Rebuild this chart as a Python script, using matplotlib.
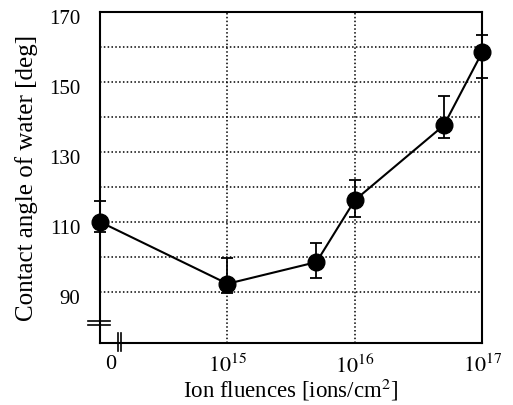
import numpy as np
import matplotlib.pyplot as plt
import matplotlib.transforms as mtransforms

plt.rcParams['font.family'] = ['Liberation Serif', 'DejaVu Serif']
plt.rcParams['mathtext.fontset'] = 'stix'

# data
fluence = np.array([0, 1e15, 5e15, 1e16, 5e16, 1e17])
angle = np.array([110.0, 92.3, 98.5, 116.2, 137.6, 158.5])
err_low = np.array([3.0, 2.6, 4.5, 4.8, 3.6, 7.3])
err_high = np.array([6.0, 7.3, 5.4, 5.7, 8.3, 4.9])

# zero fluence sits at the left edge of the broken log axis
ZERO_POS = 14.0
xpos = np.where(fluence > 0, np.log10(np.where(fluence > 0, fluence, 1)), ZERO_POS)

fig = plt.figure(figsize=(5.13, 4.06), dpi=100)
ax = fig.add_axes([0.195, 0.153, 0.745, 0.815])

ax.errorbar(xpos, angle, yerr=[err_low, err_high], color='black', lw=1.5,
            marker='o', ms=12, capsize=4, elinewidth=1.3, capthick=1.3,
            clip_on=False, zorder=5)

ax.set_xlim(14.0, 17.0)
ax.set_ylim(75.4, 170)

ax.xaxis.remove_overlapping_locs = False
ax.yaxis.remove_overlapping_locs = False
ax.set_xticks([14.08, 15, 16, 17])
ax.set_xticklabels(['0', '$10^{15}$', '$10^{16}$', '$10^{17}$'])
ax.set_xticks([15, 16], minor=True)
ax.set_yticks([90, 110, 130, 150, 170])
ax.set_yticks([90, 100, 110, 120, 130, 140, 150, 160], minor=True)
ax.tick_params(which='both', length=0)
ax.tick_params(axis='y', pad=14, labelsize=15)
ax.tick_params(axis='x', pad=8, labelsize=16)

# the scanned labels sit a little below their grid lines
shift = mtransforms.ScaledTranslation(0, -4 / 100, fig.dpi_scale_trans)
for lab in ax.get_yticklabels():
    lab.set_transform(lab.get_transform() + shift)

dots = dict(color='black', ls=(0, (1, 1.5)), lw=1.1)
ax.grid(True, which='minor', axis='y', **dots)
ax.grid(True, which='minor', axis='x', **dots)
ax.grid(False, which='major')
ax.set_axisbelow(True)

for s in ax.spines.values():
    s.set_linewidth(1.5)

# axis break marks
for yy in (0.054, 0.066):
    ax.plot([-0.031, 0.026], [yy, yy], transform=ax.transAxes, color='black', lw=1.2, clip_on=False)
for xx in (0.047, 0.055):
    ax.plot([xx, xx], [-0.024, 0.03], transform=ax.transAxes, color='black', lw=1.2, clip_on=False)

ax.set_xlabel('Ion fluences [ions/cm$^2$]', fontsize=16.5, labelpad=-1)
ax.set_ylabel('Contact angle of water [deg]', fontsize=18, labelpad=8)

fig.savefig('out.png', dpi=100)
